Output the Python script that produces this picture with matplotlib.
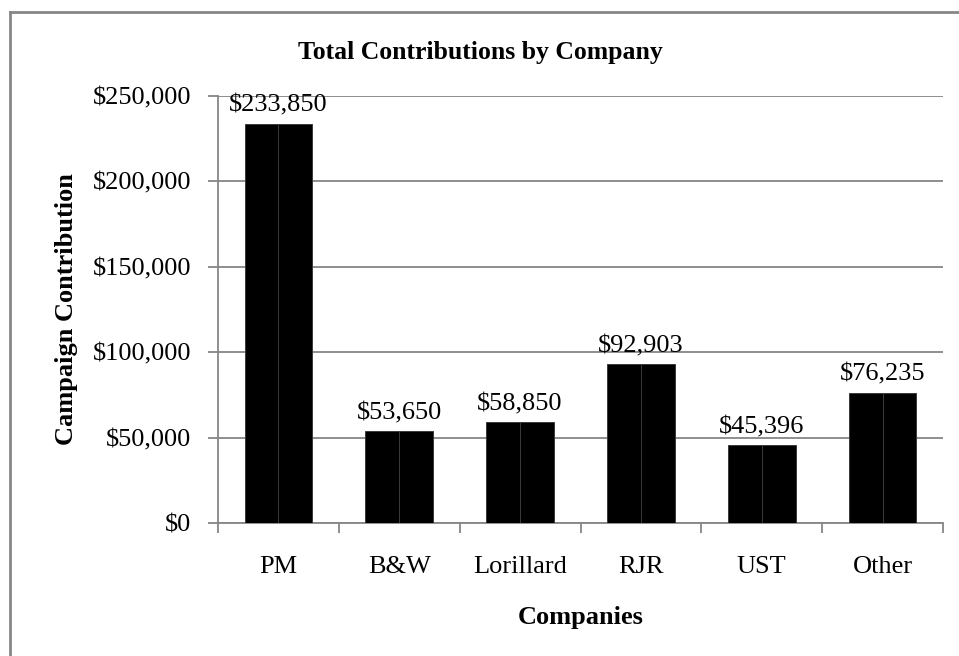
import matplotlib
matplotlib.use("Agg")
from matplotlib import pyplot as plt
from matplotlib.lines import Line2D
import numpy as np

companies = ["PM", "B&W", "Lorillard", "RJR", "UST", "Other"]
contributions = [233850, 53650, 58850, 92903, 45396, 76235]
value_labels = ["$233,850", "$53,650", "$58,850", "$92,903", "$45,396", "$76,235"]
yticks = [0, 50000, 100000, 150000, 200000, 250000]

plt.rcParams['font.family'] = ['Liberation Serif', 'DejaVu Serif']
gray = "#868686"
fs = 19

fig = plt.figure(figsize=(9.59, 6.56), dpi=100)
ax = fig.add_axes([218/959, 1-523/656, 725/959, 427/656])

x = np.arange(len(companies))
half = 0.28
# two halves per bar, like the original (thin seam in the middle)
ax.bar(x - half/2, contributions, width=half, color="black", edgecolor="#3a3a3a", linewidth=0.7, zorder=3)
ax.bar(x + half/2, contributions, width=half, color="black", edgecolor="#3a3a3a", linewidth=0.7, zorder=3)

for xi, v, lab in zip(x, contributions, value_labels):
    ax.annotate(lab, (xi, v), xytext=(0, 5), textcoords="offset points",
                ha="center", va="bottom", fontsize=fs, zorder=4)

ax.set_xlim(-0.5, len(companies) - 0.5)
ax.set_ylim(0, 250000)
ax.set_yticks(yticks)
ax.set_yticklabels(["${:,}".format(t) for t in yticks], fontsize=fs)
ax.yaxis.grid(True, color=gray, linewidth=1.3, zorder=0)
ax.set_axisbelow(True)

ax.set_xticks(np.arange(-0.5, len(companies)), minor=False)
ax.set_xticklabels([])
ax.set_xticks(x, minor=True)
ax.set_xticklabels(companies, minor=True, fontsize=fs)
ax.tick_params(axis="x", which="major", length=7, color=gray, width=1.3)
ax.tick_params(axis="x", which="minor", length=0, pad=24)
ax.tick_params(axis="y", length=7, color=gray, width=1.3, pad=12)

for s in ["top", "right"]:
    ax.spines[s].set_visible(False)
for s in ["left", "bottom"]:
    ax.spines[s].set_color(gray)
    ax.spines[s].set_linewidth(1.3)

ax.set_ylabel("Campaign Contribution", fontsize=fs, fontweight="bold", labelpad=11)
ax.set_xlabel("Companies", fontsize=fs, fontweight="bold", labelpad=20)
fig.text(480/959, 1-52/656, "Total Contributions by Company", ha="center", va="center",
         fontsize=18.5, fontweight="bold")

# outer chart border (left and top edges visible)
fig.add_artist(Line2D([10/959, 10/959], [0, 1-12/656], color=gray, linewidth=2, transform=fig.transFigure))
fig.add_artist(Line2D([10/959, 1], [1-12/656, 1-12/656], color=gray, linewidth=2, transform=fig.transFigure))

fig.savefig("out.png", dpi=100)
